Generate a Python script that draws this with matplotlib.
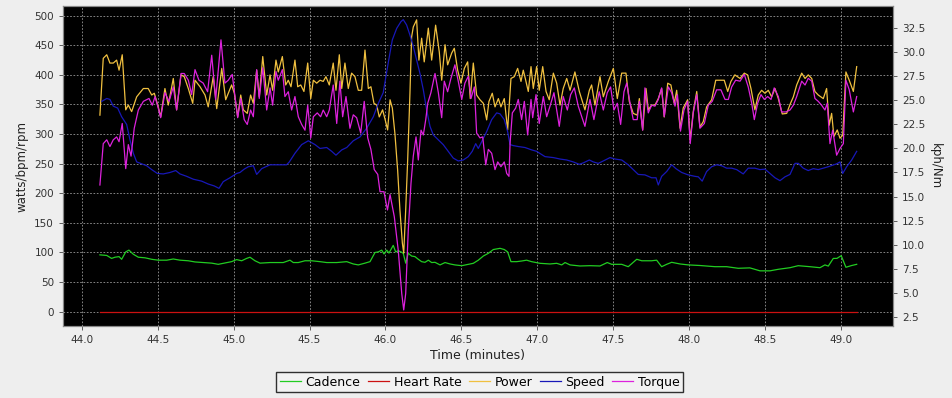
import matplotlib
matplotlib.use("Agg")
import matplotlib.pyplot as plt
from matplotlib.ticker import MultipleLocator, FormatStrFormatter

# ride data (time in minutes)
power_t = [44.120, 44.142, 44.165, 44.186, 44.208, 44.230, 44.246, 44.267, 44.290, 44.307,
           44.329, 44.362, 44.406, 44.438, 44.461, 44.478, 44.504, 44.520, 44.548, 44.570,
           44.603, 44.625, 44.654, 44.675, 44.702, 44.731, 44.746, 44.779, 44.812, 44.833,
           44.866, 44.889, 44.922, 44.948, 44.987, 45.005, 45.027, 45.047, 45.064, 45.090,
           45.112, 45.130, 45.152, 45.169, 45.192, 45.218, 45.240, 45.257, 45.279, 45.294,
           45.321, 45.343, 45.360, 45.378, 45.404, 45.422, 45.442, 45.463, 45.488, 45.508,
           45.525, 45.547, 45.569, 45.590, 45.608, 45.630, 45.656, 45.674, 45.696, 45.712,
           45.733, 45.755, 45.777, 45.799, 45.821, 45.843, 45.865, 45.887, 45.904, 45.924,
           45.942, 45.959, 45.981, 46.001, 46.014, 46.030, 46.045, 46.062, 46.080, 46.095,
           46.111, 46.120, 46.133, 46.146, 46.161, 46.172, 46.183, 46.205, 46.220, 46.238,
           46.255, 46.282, 46.304, 46.330, 46.354, 46.370, 46.392, 46.409, 46.436, 46.453,
           46.475, 46.497, 46.519, 46.541, 46.558, 46.578, 46.600, 46.622, 46.644, 46.666,
           46.681, 46.703, 46.721, 46.743, 46.760, 46.782, 46.804, 46.826, 46.848, 46.870,
           46.892, 46.907, 46.923, 46.940, 46.958, 46.973, 46.995, 47.012, 47.035, 47.057,
           47.078, 47.105, 47.127, 47.149, 47.170, 47.193, 47.215, 47.247, 47.276, 47.313,
           47.342, 47.357, 47.379, 47.412, 47.434, 47.467, 47.500, 47.526, 47.555, 47.583,
           47.605, 47.631, 47.657, 47.671, 47.693, 47.715, 47.730, 47.752, 47.774, 47.796,
           47.818, 47.835, 47.858, 47.879, 47.901, 47.917, 47.939, 47.960, 47.989, 48.006,
           48.026, 48.049, 48.070, 48.092, 48.114, 48.147, 48.174, 48.202, 48.230, 48.253,
           48.274, 48.300, 48.334, 48.362, 48.384, 48.406, 48.432, 48.454, 48.476, 48.498,
           48.520, 48.542, 48.564, 48.586, 48.612, 48.641, 48.663, 48.685, 48.707, 48.740,
           48.762, 48.783, 48.806, 48.827, 48.849, 48.882, 48.904, 48.921, 48.937, 48.952,
           48.974, 48.992, 49.010, 49.031, 49.053, 49.080, 49.102]
power = [332, 428, 434, 420, 420, 425, 408, 434, 341, 349,
         338, 363, 377, 377, 366, 369, 346, 329, 377, 349,
         394, 341, 400, 397, 377, 352, 391, 380, 366, 346,
         397, 343, 411, 358, 383, 369, 329, 366, 341, 335,
         366, 352, 408, 363, 431, 366, 400, 374, 425, 405,
         431, 383, 391, 380, 425, 380, 383, 372, 420, 360,
         391, 386, 391, 389, 397, 383, 420, 374, 434, 377,
         420, 377, 403, 397, 374, 374, 442, 377, 380, 352,
         349, 329, 341, 321, 307, 358, 344, 301, 239, 172,
         116, 99, 172, 256, 369, 464, 481, 493, 425, 462,
         422, 479, 425, 484, 439, 391, 451, 417, 437, 445,
         408, 386, 411, 422, 360, 420, 366, 358, 352, 324,
         355, 369, 346, 360, 346, 360, 307, 394, 397, 411,
         389, 408, 391, 372, 414, 377, 414, 374, 414, 372,
         358, 403, 386, 349, 377, 394, 374, 405, 372, 341,
         374, 383, 349, 397, 363, 389, 411, 360, 403, 403,
         355, 335, 332, 360, 307, 377, 341, 349, 349, 360,
         377, 329, 386, 383, 352, 374, 310, 344, 358, 290,
         338, 372, 312, 321, 346, 358, 391, 391, 391, 372,
         389, 400, 394, 403, 400, 377, 341, 366, 374, 369,
         374, 363, 377, 360, 334, 335, 350, 363, 383, 403,
         394, 400, 394, 372, 366, 360, 377, 315, 335, 296,
         307, 293, 298, 405, 391, 372, 414]

torque_t = [44.120, 44.142, 44.165, 44.186, 44.208, 44.230, 44.246, 44.267, 44.290, 44.307,
            44.325, 44.346, 44.373, 44.406, 44.443, 44.465, 44.483, 44.504, 44.520, 44.548,
            44.575, 44.603, 44.625, 44.654, 44.675, 44.702, 44.724, 44.746, 44.772, 44.800,
            44.829, 44.856, 44.882, 44.917, 44.943, 44.965, 44.991, 45.027, 45.047, 45.070,
            45.090, 45.112, 45.130, 45.152, 45.169, 45.192, 45.218, 45.240, 45.257, 45.279,
            45.294, 45.321, 45.338, 45.360, 45.382, 45.404, 45.426, 45.448, 45.470, 45.488,
            45.508, 45.525, 45.551, 45.573, 45.590, 45.613, 45.630, 45.656, 45.679, 45.700,
            45.718, 45.740, 45.766, 45.788, 45.810, 45.837, 45.860, 45.883, 45.904, 45.926,
            45.949, 45.964, 45.990, 46.013, 46.030, 46.058, 46.084, 46.107, 46.120, 46.133,
            46.150, 46.168, 46.183, 46.201, 46.216, 46.234, 46.249, 46.265, 46.278, 46.299,
            46.326, 46.348, 46.370, 46.387, 46.409, 46.431, 46.457, 46.479, 46.502, 46.523,
            46.545, 46.563, 46.585, 46.600, 46.622, 46.640, 46.660, 46.677, 46.699, 46.721,
            46.739, 46.760, 46.782, 46.798, 46.813, 46.820, 46.835, 46.857, 46.874, 46.896,
            46.914, 46.936, 46.958, 46.969, 46.991, 47.012, 47.039, 47.061, 47.083, 47.109,
            47.144, 47.170, 47.197, 47.219, 47.243, 47.269, 47.313, 47.346, 47.372, 47.407,
            47.434, 47.460, 47.482, 47.504, 47.526, 47.548, 47.570, 47.588, 47.610, 47.631,
            47.657, 47.671, 47.693, 47.708, 47.730, 47.752, 47.774, 47.796, 47.818, 47.835,
            47.862, 47.884, 47.906, 47.922, 47.942, 47.965, 47.989, 48.006, 48.026, 48.049,
            48.070, 48.099, 48.125, 48.151, 48.180, 48.208, 48.235, 48.257, 48.279, 48.305,
            48.334, 48.362, 48.388, 48.411, 48.428, 48.450, 48.472, 48.494, 48.516, 48.538,
            48.559, 48.586, 48.608, 48.636, 48.663, 48.685, 48.707, 48.740, 48.762, 48.783,
            48.806, 48.827, 48.849, 48.871, 48.893, 48.908, 48.926, 48.944, 48.970, 48.992,
            49.014, 49.031, 49.053, 49.080, 49.102]
torque = [16.2, 20.5, 20.9, 20.2, 20.9, 21.2, 20.7, 22.6, 17.9, 20.4,
          19.2, 22.1, 24.0, 24.9, 25.2, 24.5, 25.4, 24.2, 23.2, 25.8,
          24.9, 26.4, 24.0, 27.8, 27.8, 27.1, 25.6, 28.2, 27.1, 26.8,
          25.9, 29.7, 25.1, 31.3, 26.8, 27.1, 27.7, 23.2, 25.2, 23.0,
          22.5, 24.0, 23.3, 28.2, 25.2, 28.4, 24.0, 26.3, 24.5, 28.0,
          27.1, 28.2, 25.4, 25.9, 24.0, 25.4, 23.3, 22.5, 21.9, 24.5,
          21.1, 23.3, 23.7, 23.3, 24.0, 23.3, 24.0, 26.6, 22.6, 27.0,
          23.3, 25.4, 22.1, 23.5, 23.2, 21.6, 24.9, 21.1, 19.9, 17.8,
          17.3, 15.5, 15.5, 13.6, 15.2, 12.9, 9.4, 4.9, 3.2, 4.9,
          11.5, 16.4, 19.2, 21.2, 18.8, 21.9, 21.4, 23.0, 24.7, 25.8,
          27.8, 25.8, 23.2, 27.0, 25.9, 27.3, 28.7, 27.0, 25.1, 26.8,
          27.5, 25.2, 26.4, 21.6, 21.1, 21.2, 18.3, 19.9, 19.5, 17.8,
          18.6, 18.1, 18.6, 17.4, 17.1, 20.5, 23.7, 24.2, 25.1, 23.0,
          24.9, 21.4, 25.1, 23.2, 25.6, 22.6, 25.4, 23.3, 24.4, 25.8,
          22.3, 25.4, 24.0, 25.6, 26.3, 24.4, 22.3, 25.1, 23.0, 25.9,
          24.0, 25.8, 26.4, 24.0, 24.7, 22.5, 25.9, 26.8, 24.7, 23.0,
          23.0, 24.9, 21.9, 26.3, 23.7, 24.5, 24.4, 25.1, 26.3, 23.3,
          26.4, 25.8, 24.4, 25.6, 21.8, 24.0, 24.9, 20.5, 23.7, 25.6,
          22.1, 22.6, 24.5, 24.9, 26.1, 26.1, 25.1, 25.1, 26.4, 27.1,
          27.0, 27.7, 26.4, 24.7, 23.0, 24.7, 25.6, 25.1, 25.4, 25.1,
          26.3, 25.4, 23.8, 23.8, 24.0, 24.5, 25.4, 27.0, 26.6, 27.3,
          27.0, 25.2, 24.9, 24.5, 24.0, 24.7, 20.5, 21.9, 19.3, 20.0,
          20.5, 27.1, 26.1, 23.8, 25.4]

speed_t = [44.132, 44.165, 44.186, 44.208, 44.237, 44.263, 44.296, 44.318, 44.340, 44.362,
           44.395, 44.428, 44.461, 44.498, 44.537, 44.581, 44.619, 44.647, 44.691, 44.735,
           44.790, 44.833, 44.873, 44.904, 44.932, 44.976, 45.020, 45.042, 45.070, 45.097,
           45.130, 45.152, 45.185, 45.240, 45.294, 45.349, 45.367, 45.404, 45.448, 45.492,
           45.536, 45.569, 45.613, 45.646, 45.674, 45.712, 45.745, 45.788, 45.832, 45.876,
           45.920, 45.953, 45.985, 46.018, 46.045, 46.074, 46.102, 46.117, 46.139, 46.161,
           46.183, 46.205, 46.227, 46.249, 46.271, 46.293, 46.315, 46.348, 46.380, 46.413,
           46.446, 46.479, 46.512, 46.545, 46.571, 46.594, 46.611, 46.633, 46.666, 46.699,
           46.732, 46.754, 46.782, 46.804, 46.820, 46.841, 46.874, 46.918, 46.962, 46.995,
           47.050, 47.105, 47.149, 47.193, 47.236, 47.276, 47.302, 47.342, 47.368, 47.401,
           47.434, 47.478, 47.511, 47.555, 47.598, 47.631, 47.664, 47.708, 47.752, 47.781,
           47.796, 47.818, 47.851, 47.884, 47.912, 47.950, 47.993, 48.037, 48.059, 48.085,
           48.114, 48.147, 48.180, 48.213, 48.246, 48.279, 48.312, 48.355, 48.388, 48.432,
           48.465, 48.498, 48.531, 48.564, 48.597, 48.630, 48.663, 48.696, 48.718, 48.750,
           48.783, 48.816, 48.849, 48.882, 48.915, 48.970, 48.992, 49.010, 49.036, 49.069,
           49.102]
speed = [24.9, 25.2, 25.1, 24.4, 24.2, 23.3, 22.5, 20.9, 19.5, 18.6,
         18.4, 18.2, 17.8, 17.4, 17.35, 17.5, 17.7, 17.35, 17.1, 16.8,
         16.6, 16.3, 16.1, 15.85, 16.55, 16.95, 17.4, 17.5, 17.85, 18.1,
         18.2, 17.3, 17.9, 18.3, 18.3, 18.3, 18.6, 19.5, 20.4, 20.8,
         20.4, 20.0, 20.1, 19.7, 19.3, 19.85, 20.1, 20.8, 21.2, 22.1,
         23.3, 24.7, 25.8, 28.9, 31.3, 32.5, 33.2, 33.4, 32.85, 31.8,
         30.6, 29.2, 27.8, 26.1, 24.0, 22.3, 21.4, 20.9, 20.4, 19.7,
         19.0, 18.7, 18.8, 19.15, 19.7, 20.5, 20.0, 20.7, 21.75, 23.0,
         23.7, 23.6, 23.0, 21.75, 20.4, 20.3, 20.2, 20.1, 19.85, 19.7,
         19.15, 19.05, 18.9, 18.8, 18.6, 18.35, 18.5, 18.8, 18.6, 18.45,
         18.7, 19.05, 18.9, 18.8, 18.3, 17.8, 17.3, 17.25, 16.95, 16.95,
         16.2, 17.1, 17.6, 18.3, 17.9, 17.5, 17.25, 17.1, 17.05, 16.6,
         17.6, 18.1, 18.3, 18.2, 17.95, 17.95, 17.8, 17.35, 17.95, 17.95,
         17.8, 17.85, 17.4, 16.95, 16.65, 17.05, 17.3, 18.45, 18.45, 17.95,
         17.7, 17.9, 17.8, 17.95, 18.1, 18.4, 18.6, 17.4, 18.1, 18.8,
         19.7]

cadence_t = [44.120, 44.165, 44.197, 44.219, 44.246, 44.263, 44.290, 44.311, 44.340, 44.373,
             44.417, 44.461, 44.504, 44.560, 44.603, 44.647, 44.702, 44.746, 44.800, 44.856,
             44.899, 44.932, 44.987, 45.020, 45.053, 45.086, 45.108, 45.141, 45.174, 45.240,
             45.327, 45.371, 45.393, 45.426, 45.470, 45.514, 45.569, 45.613, 45.679, 45.745,
             45.788, 45.821, 45.865, 45.898, 45.916, 45.931, 45.953, 45.975, 45.990, 46.008,
             46.023, 46.036, 46.051, 46.067, 46.084, 46.102, 46.117, 46.133, 46.150, 46.172,
             46.194, 46.216, 46.238, 46.260, 46.282, 46.304, 46.326, 46.359, 46.392, 46.425,
             46.457, 46.502, 46.545, 46.578, 46.611, 46.644, 46.677, 46.710, 46.754, 46.782,
             46.804, 46.826, 46.864, 46.896, 46.929, 46.962, 47.017, 47.083, 47.127, 47.160,
             47.182, 47.215, 47.280, 47.346, 47.412, 47.460, 47.489, 47.555, 47.598, 47.654,
             47.687, 47.752, 47.785, 47.818, 47.851, 47.884, 47.939, 47.993, 48.070, 48.169,
             48.246, 48.322, 48.399, 48.465, 48.531, 48.586, 48.663, 48.717, 48.794, 48.860,
             48.893, 48.915, 48.948, 48.972, 49.000, 49.031, 49.069, 49.102]
cadence = [96, 95, 90, 92, 93, 88.5, 101, 104, 97, 92,
           91, 88.5, 87, 87, 89, 87, 86, 84, 83, 82,
           80, 81.7, 84.5, 88, 86, 90, 92, 86, 82, 83,
           83, 87, 83, 83, 86, 86, 84.5, 83, 83, 84.5,
           80.6, 79, 82, 84.5, 93, 100, 101, 104, 97.5, 104,
           99, 105, 112, 101, 103, 101, 98.6, 82, 98.6, 94,
           93, 88.5, 84.5, 83.4, 87, 83, 83.4, 79, 83, 80.6,
           79, 77.7, 80, 81.7, 87, 94, 98.6, 105, 107, 105,
           101, 84.5, 84.5, 85.6, 87, 84.5, 81.7, 80.6, 81.7, 79,
           83, 79, 77.2, 77.7, 77.2, 83, 80, 80, 76, 88.5,
           86, 86, 87, 76, 80, 83.4, 80.6, 79, 78, 76,
           76, 73.3, 74, 69, 69, 71.6, 74.3, 77.7, 76, 74.3,
           79, 77, 90, 90, 94.6, 75, 78, 80]

hr_t = [44.120, 49.102]
heart_rate = [0, 0]

labels = ["Cadence", "Heart Rate", "Power", "Speed", "Torque"]
colors = ["#22cc22", "#cc1111", "#f0c040", "#1818b8", "#dd22dd"]

fig = plt.figure(figsize=(9.52, 3.98), dpi=100, facecolor="#eeeeee")
ax = fig.add_axes([63 / 952, 1 - 326 / 398, 830 / 952, 320 / 398])
ax.set_facecolor("black")
ax2 = ax.twinx()

lw = 0.9
l1, = ax.plot(cadence_t, cadence, color=colors[0], lw=lw)
l2, = ax.plot(hr_t, heart_rate, color=colors[1], lw=lw)
l3, = ax.plot(power_t, power, color=colors[2], lw=lw)
l4, = ax2.plot(speed_t, speed, color=colors[3], lw=lw)
l5, = ax2.plot(torque_t, torque, color=colors[4], lw=lw)

ax.set_xlim(43.877, 49.341)
ax.set_ylim(-24.2, 516.4)
ax2.set_ylim(1.53, 34.82)

ax.xaxis.set_major_locator(MultipleLocator(0.5))
ax.xaxis.set_major_formatter(FormatStrFormatter("%.1f"))
ax.yaxis.set_major_locator(MultipleLocator(50))
ax2.yaxis.set_major_locator(MultipleLocator(2.5))
ax2.yaxis.set_major_formatter(FormatStrFormatter("%.1f"))

ax.grid(True, color="#999999", linestyle=(0, (2, 2)), linewidth=0.6)
ax.set_axisbelow(True)

for a in (ax, ax2):
    a.tick_params(labelsize=7.5, colors="#444444", length=3, width=0.6, labelcolor="#333333")
    for s in a.spines.values():
        s.set_color("#888888")
        s.set_linewidth(0.8)

ax.set_xlabel("Time (minutes)", fontsize=9, color="#222222", labelpad=3)
ax.set_ylabel("watts/bpm/rpm", fontsize=8.5, color="#222222", labelpad=4)
ax2.set_ylabel("kph/Nm", fontsize=8.5, color="#222222", rotation=270, labelpad=12)

leg = fig.legend([l1, l2, l3, l4, l5], labels, loc="center", bbox_to_anchor=(0.504, 0.04),
                 ncol=5, fontsize=9, frameon=True, fancybox=False, edgecolor="black",
                 facecolor="#f4f4f4", handlelength=1.7, handletextpad=0.35, columnspacing=0.6,
                 borderpad=0.3)
leg.get_frame().set_linewidth(1.0)

fig.savefig("out.png", dpi=100, facecolor=fig.get_facecolor())
